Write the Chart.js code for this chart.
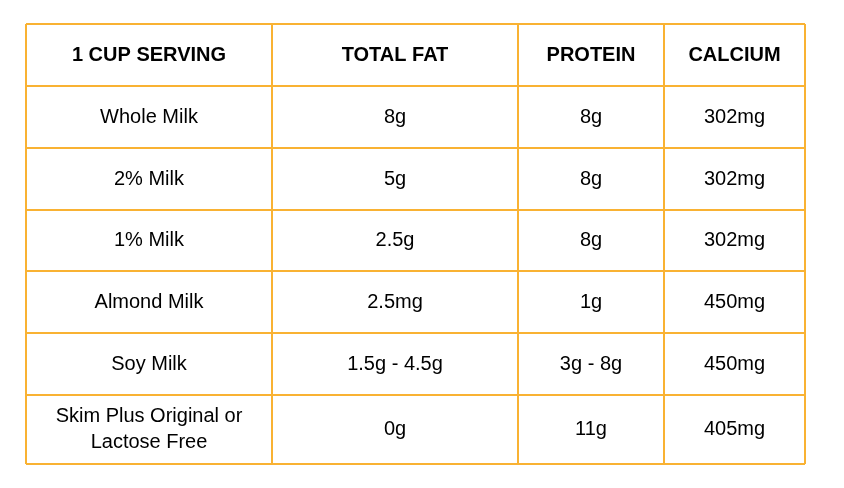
<!DOCTYPE html>
<html>
<head>
<meta charset="utf-8">
<script src="https://cdn.jsdelivr.net/npm/chart.js@4"></script>
<style>
  html, body { margin: 0; padding: 0; background: #fff; }
  #wrap { width: 844px; height: 488px; }
</style>
</head>
<body>
<div id="wrap"><canvas id="tbl" width="844" height="488"></canvas></div>
<script>
// Table data
const headers  = ['1 CUP SERVING', 'TOTAL FAT', 'PROTEIN', 'CALCIUM'];
const servings = ['Whole Milk', '2% Milk', '1% Milk', 'Almond Milk', 'Soy Milk', 'Skim Plus Original or\nLactose Free'];
const totalFat = ['8g', '5g', '2.5g', '2.5mg', '1.5g - 4.5g', '0g'];
const protein  = ['8g', '8g', '8g', '1g', '3g - 8g', '11g'];
const calcium  = ['302mg', '302mg', '302mg', '450mg', '450mg', '405mg'];

// Layout (fractions of the table area)
const colEdges = [0, 246, 492, 638, 779];          // px widths within 779px table
const rowEdges = [0, 62, 124, 186, 247, 309, 371, 440]; // px heights within 440px table
const BORDER = '#F9B233';

const tablePlugin = {
  id: 'tablePlugin',
  afterDraw(chart) {
    const ctx = chart.ctx;
    const a = chart.chartArea;
    const xs = colEdges.map(v => a.left + v * (a.right - a.left) / 779);
    const ys = rowEdges.map(v => a.top + v * (a.bottom - a.top) / 440);
    ctx.save();
    ctx.strokeStyle = BORDER;
    ctx.lineWidth = 2;
    xs.forEach(x => { ctx.beginPath(); ctx.moveTo(x, ys[0]); ctx.lineTo(x, ys[ys.length - 1]); ctx.stroke(); });
    ys.forEach(y => { ctx.beginPath(); ctx.moveTo(xs[0], y); ctx.lineTo(xs[xs.length - 1], y); ctx.stroke(); });

    ctx.fillStyle = '#000';
    ctx.textAlign = 'center';
    ctx.textBaseline = 'middle';
    const cell = (text, c, r, bold) => {
      ctx.font = (bold ? 'bold ' : '') + '20px "Liberation Sans", Arial, sans-serif';
      const cx = (xs[c] + xs[c + 1]) / 2;
      const cy = (ys[r] + ys[r + 1]) / 2;
      const lines = text.split('\n');
      lines.forEach((ln, i) => ctx.fillText(ln, cx, cy + (i - (lines.length - 1) / 2) * 26));
    };
    headers.forEach((h, c) => cell(h, c, 0, true));
    const cols = [servings, totalFat, protein, calcium];
    servings.forEach((_, r) => cols.forEach((col, c) => cell(col[r], c, r + 1, false)));
    ctx.restore();
  }
};

new Chart(document.getElementById('tbl'), {
  type: 'bar',
  data: { labels: servings, datasets: [{ data: [], backgroundColor: 'transparent' }] },
  options: {
    responsive: false,
    animation: false,
    layout: { padding: { left: 26, right: 39, top: 24, bottom: 24 } },
    plugins: { legend: { display: false }, tooltip: { enabled: false } },
    scales: { x: { display: false }, y: { display: false } }
  },
  plugins: [tablePlugin]
});
</script>
</body>
</html>
